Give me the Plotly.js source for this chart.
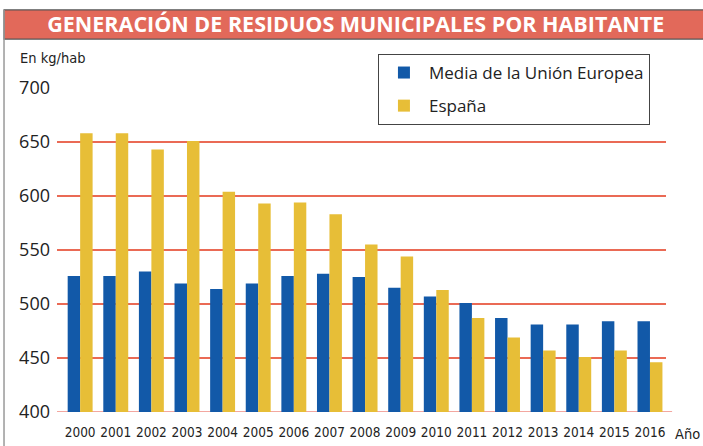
<!DOCTYPE html>
<html>
<head>
<meta charset="utf-8">
<script src="https://cdn.plot.ly/plotly-3.0.1.min.js"></script>
<style>
  html, body { margin: 0; padding: 0; background: #fff; }
  #chart { width: 703px; height: 446px; }
</style>
</head>
<body>
<div id="chart"></div>
<script>
var years = ['2000', '2001', '2002', '2003', '2004', '2005', '2006', '2007', '2008',
             '2009', '2010', '2011', '2012', '2013', '2014', '2015', '2016'];
var mediaUE = [526, 526, 530, 519, 514, 519, 526, 528, 525, 515, 507, 501, 487, 481, 481, 484, 484];
var espana = [658, 658, 643, 651, 604, 593, 594, 583, 555, 544, 513, 487, 469, 457, 451, 457, 446];

var font = 'Open Sans, Noto Sans, sans-serif';
var narrow = 'DejaVu Sans Condensed, Open Sans, sans-serif';

var traceUE = {
    x: years,
    y: mediaUE,
    type: 'bar',
    name: 'Media de la Unión Europea',
    legendgroup: 'ue',
    marker: { color: '#1259a8' }
};

var traceES = {
    x: years,
    y: espana,
    type: 'bar',
    name: 'España',
    legendgroup: 'es',
    marker: { color: '#e7be37' }
};

// marco: barra de título y borde izquierdo (coordenadas de papel)
var shapes = [
    { type: 'rect', xref: 'paper', yref: 'paper', x0: -0.087, x1: 1.07, y0: 1.151, y1: 1.241,
      fillcolor: '#e2695a', line: { color: '#555', width: 1.2 }, layer: 'below' },
    { type: 'line', xref: 'paper', yref: 'paper', x0: -0.087, x1: -0.087, y0: 1.241, y1: -0.11,
      line: { color: '#999', width: 1.5 } },
    { type: 'line', xref: 'paper', yref: 'y', x0: 0, x1: 1.01, y0: 400, y1: 400,
      line: { color: '#ef8a80', width: 1.5 }, layer: 'below' }
];

var layout = {
    width: 703,
    height: 446,
    margin: { l: 57, r: 37, t: 88, b: 34 },
    paper_bgcolor: '#fff',
    plot_bgcolor: '#fff',
    font: { family: font, color: '#222' },
    title: {
        text: '<b>GENERACIÓN DE RESIDUOS MUNICIPALES POR HABITANTE</b>',
        font: { family: font, size: 21.5, color: '#fff' },
        xref: 'container', yref: 'container',
        x: 0.506, y: 0.946, xanchor: 'center', yanchor: 'middle'
    },
    barmode: 'group',
    bargap: 0.3,
    bargroupgap: 0,
    showlegend: true,
    legend: {
        x: 0.527, y: 1.105, xanchor: 'left', yanchor: 'top',
        bgcolor: '#fff',
        bordercolor: '#444',
        borderwidth: 1,
        font: { family: font, size: 17, color: '#222' },
        itemwidth: 40,
        tracegroupgap: 8
    },
    xaxis: {
        type: 'category',
        range: [-0.65, 16.45],
        showgrid: false,
        showline: false,
        zeroline: false,
        ticks: '',
        ticklen: 0,
        tickangle: 0,
        ticklabelstandoff: 10,
        tickfont: { family: narrow, size: 13.5, color: '#222' }
    },
    yaxis: {
        range: [400, 700],
        tickvals: [400, 450, 500, 550, 600, 650, 700],
        showgrid: true,
        gridcolor: '#ea6a55',
        gridwidth: 1.3,
        zeroline: false,
        showline: false,
        ticks: '',
        ticklabelstandoff: 6,
        tickfont: { family: font, size: 18, color: '#222' }
    },
    shapes: shapes,
    annotations: [
        { xref: 'paper', yref: 'paper', x: -0.064, y: 1.092, xanchor: 'left', yanchor: 'middle',
          text: 'En kg/hab', showarrow: false, font: { family: narrow, size: 14.5, color: '#222' } },
        { xref: 'paper', yref: 'paper', x: 1.036, y: -0.068, xanchor: 'center', yanchor: 'middle',
          text: 'Año', showarrow: false, font: { family: narrow, size: 14.5, color: '#222' } }
    ]
};

Plotly.newPlot('chart', [traceUE, traceES], layout, { displayModeBar: false, staticPlot: true });
</script>
</body>
</html>
